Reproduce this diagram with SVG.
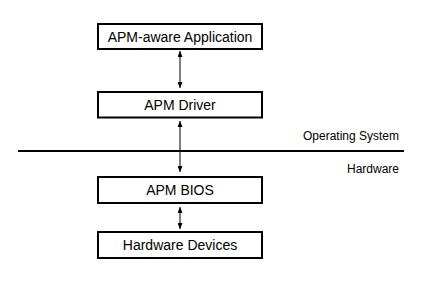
<svg xmlns="http://www.w3.org/2000/svg" width="421" height="291" viewBox="0 0 421 291">
<style>
.box{fill:#fff;stroke:#000;stroke-width:2}
.lbl{font-family:"Liberation Sans",Arial,sans-serif;font-size:14px;fill:#000;text-anchor:middle}
.side{font-family:"Liberation Sans",Arial,sans-serif;font-size:12px;fill:#000;text-anchor:end}
.conn{stroke:#000;stroke-width:1;fill:none;marker-start:url(#ah);marker-end:url(#ah)}
</style>
<defs>
<marker id="ah" viewBox="0 0 6 5" refX="6" refY="2.5" markerWidth="6" markerHeight="5" orient="auto-start-reverse" markerUnits="userSpaceOnUse">
<path d="M0,0 L6,2.5 L0,5 Z" fill="#000"/>
</marker>
</defs>
<rect width="421" height="291" fill="#fff"/>
<g id="boundary">
<line x1="18" y1="151" x2="404" y2="151" stroke="#000" stroke-width="2"/>
<text class="side" x="399" y="139.5">Operating System</text>
<text class="side" x="399" y="173">Hardware</text>
</g>
<g id="connectors">
<line class="conn" x1="180" y1="51" x2="180" y2="88"/>
<line class="conn" x1="180" y1="121" x2="180" y2="172"/>
<line class="conn" x1="180" y1="207" x2="180" y2="229"/>
</g>
<g id="app">
<rect class="box" x="98" y="24" width="164" height="25"/>
<text class="lbl" x="180" y="41.5">APM-aware Application</text>
</g>
<g id="driver">
<rect class="box" x="98" y="92" width="164" height="25.5"/>
<text class="lbl" x="180" y="110">APM Driver</text>
</g>
<g id="bios">
<rect class="box" x="98" y="177" width="164" height="26"/>
<text class="lbl" x="180" y="195">APM BIOS</text>
</g>
<g id="devices">
<rect class="box" x="98" y="232" width="164" height="26"/>
<text class="lbl" x="180" y="250">Hardware Devices</text>
</g>
</svg>
